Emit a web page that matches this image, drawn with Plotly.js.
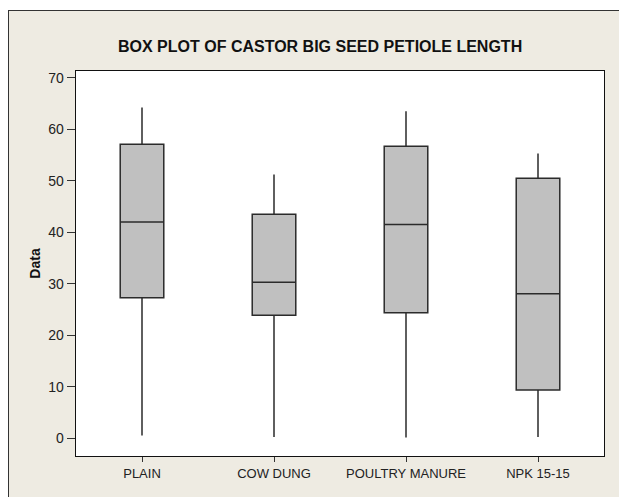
<!DOCTYPE html>
<html>
<head>
<meta charset="utf-8">
<script src="https://cdn.plot.ly/plotly-3.0.1.min.js"></script>
<style>
  html, body { margin: 0; padding: 0; background: #ffffff; width: 619px; height: 497px; overflow: hidden; }
  #chart { position: absolute; left: 8px; top: 10px; width: 610px; height: 486px;
           border-left: 1px solid #333; border-top: 1px solid #333; }
</style>
</head>
<body>
<div id="chart"></div>
<script>
// Data
const categories = ["PLAIN", "COW DUNG", "POULTRY MANURE", "NPK 15-15"];
const minValues    = [0.6, 0.3, 0.2, 0.3];
const q1Values     = [27.3, 23.9, 24.4, 9.4];
const medianValues = [42.0, 30.3, 41.5, 28.1];
const q3Values     = [57.1, 43.5, 56.7, 50.5];
const maxValues    = [64.2, 51.2, 63.5, 55.3];
const yTickValues  = [0, 10, 20, 30, 40, 50, 60, 70];

const narrow = "'Liberation Sans Narrow', 'Arial Narrow', 'Liberation Sans', Arial, sans-serif";

const trace = {
  type: "box",
  x: categories,
  q1: q1Values,
  median: medianValues,
  q3: q3Values,
  lowerfence: minValues,
  upperfence: maxValues,
  fillcolor: "#c0c0c0",
  line: { color: "#2b2b2b", width: 1.5 },
  whiskerwidth: 0,
  width: 0.33,
  boxpoints: false,
  hoverinfo: "y",
  showlegend: false
};

const layout = {
  width: 610,
  height: 486,
  paper_bgcolor: "#eeebe2",
  plot_bgcolor: "#ffffff",
  margin: { l: 67, r: 15, t: 60, b: 41, pad: 0 },
  title: {
    text: "<b>BOX PLOT OF CASTOR BIG SEED PETIOLE LENGTH</b>",
    font: { family: narrow, size: 16, color: "#111" },
    xref: "container", x: 0.51, xanchor: "center",
    yref: "container", y: 1 - 35 / 486, yanchor: "middle"
  },
  xaxis: {
    type: "category",
    range: [-0.5, 3.5],
    showline: true, mirror: true, linecolor: "#111", linewidth: 1.3,
    ticks: "outside", ticklen: 5, tickcolor: "#333", tickwidth: 1,
    tickfont: { family: narrow, size: 13, color: "#222" },
    showgrid: false, zeroline: false, fixedrange: true
  },
  yaxis: {
    range: [-3.4, 71.3],
    tickvals: yTickValues,
    showline: true, mirror: true, linecolor: "#111", linewidth: 1.3,
    ticks: "outside", ticklen: 8, tickcolor: "#333", tickwidth: 1,
    tickfont: { family: narrow, size: 14, color: "#222" },
    title: {
      text: "<b>Data</b>",
      font: { family: "'Liberation Sans', Arial, sans-serif", size: 14, color: "#111" },
      standoff: 4
    },
    showgrid: false, zeroline: false, fixedrange: true
  }
};

Plotly.newPlot("chart", [trace], layout, { displayModeBar: false, staticPlot: true });
</script>
</body>
</html>
